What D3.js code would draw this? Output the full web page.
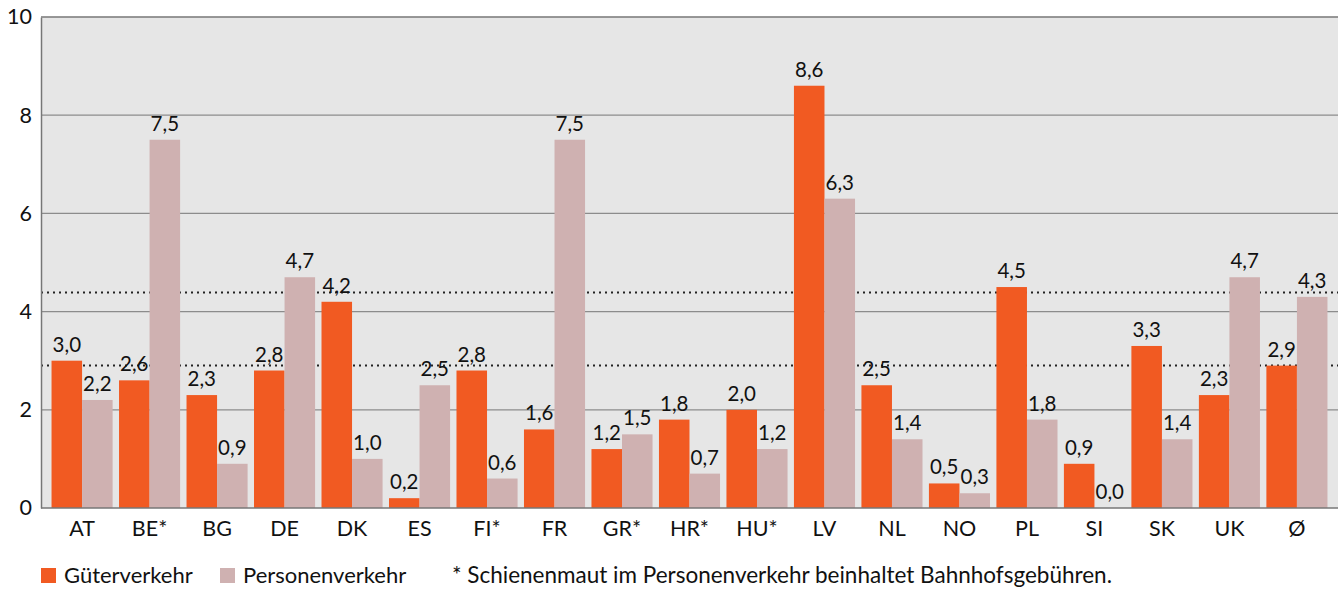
<!DOCTYPE html>
<html><head><meta charset="utf-8">
<script src="https://cdn.jsdelivr.net/npm/d3@7"></script>
<style>body{margin:0;background:#fff}svg{display:block;font-family:Lato,"Open Sans",sans-serif}</style>
</head><body><svg id="c" width="1338" height="590"></svg>
<script>
const categories = ["AT","BE*","BG","DE","DK","ES","FI*","FR","GR*","HR*","HU*","LV","NL","NO","PL","SI","SK","UK","Ø"];
const gueter = [3.0,2.6,2.3,2.8,4.2,0.2,2.8,1.6,1.2,1.8,2.0,8.6,2.5,0.5,4.5,0.9,3.3,2.3,2.9];
const personen = [2.2,7.5,0.9,4.7,1.0,2.5,0.6,7.5,1.5,0.7,1.2,6.3,1.4,0.3,1.8,0.0,1.4,4.7,4.3];
const seriesNames = ["Güterverkehr","Personenverkehr"];
const yTicks = [0,2,4,6,8,10];
const avgLines = [2.9, 4.39];
const footnote = "* Schienenmaut im Personenverkehr beinhaltet Bahnhofsgebühren.";

const colors = ["#F15A22","#CFB1B1"];
const svg = d3.select("#c");
const plotL = 41, plotR = 1338, plotT = 17, plotB = 508;
const y = d3.scaleLinear().domain([0,10]).range([plotB, plotT]);
const x = d3.scaleBand().domain(categories).range([48.3, 1330.7]).paddingInner(0.095).paddingOuter(0.048);
const xs = d3.scaleBand().domain([0,1]).range([0, x.bandwidth()]);

svg.append("rect").attr("x",plotL).attr("y",plotT).attr("width",plotR-plotL).attr("height",plotB-plotT).attr("fill","#E6E6E6");
svg.append("g").selectAll("line").data(yTicks.filter(d=>d>0)).join("line")
  .attr("x1",plotL).attr("x2",plotR).attr("y1",d=>y(d)).attr("y2",d=>y(d))
  .attr("stroke", "#8C8C8C").attr("stroke-width",1.2);
svg.append("g").selectAll("line").data(avgLines).join("line")
  .attr("x1",plotL).attr("x2",plotR).attr("y1",d=>y(d)).attr("y2",d=>y(d))
  .attr("stroke","#222").attr("stroke-width",2).attr("stroke-dasharray","2,4");

const data = categories.map((c,i)=>({c, v:[gueter[i], personen[i]]}));
const g = svg.append("g").selectAll("g").data(data).join("g").attr("transform",d=>`translate(${x(d.c)},0)`);
g.selectAll("rect").data(d=>d.v.map((v,k)=>({v,k}))).join("rect")
  .attr("x",d=>xs(d.k)).attr("width",xs.bandwidth())
  .attr("y",d=>y(d.v)).attr("height",d=>y(0)-y(d.v)).attr("fill",d=>colors[d.k]);
g.selectAll("text").data(d=>d.v.map((v,k)=>({v,k}))).join("text")
  .attr("x",d=>xs(d.k)+xs.bandwidth()/2).attr("y",d=>y(d.v)-9)
  .attr("text-anchor","middle").attr("font-size",20.5).attr("fill","#111")
  .text(d=>d.v.toFixed(1).replace(".",","));

const yAxis = svg.append("g").attr("transform",`translate(${plotL},0)`)
  .call(d3.axisLeft(y).tickValues(yTicks).tickSize(0).tickPadding(9));
yAxis.select(".domain").attr("stroke","#777").attr("stroke-width",1.5);
yAxis.selectAll("text").attr("font-size",21.5).attr("fill","#111").attr("font-family","Lato,sans-serif");
svg.append("line").attr("x1",plotL).attr("x2",plotR).attr("y1",plotT).attr("y2",plotT).attr("stroke","#888").attr("stroke-width",1.5);
const xAxis = svg.append("g").attr("transform",`translate(0,${plotB})`)
  .call(d3.axisBottom(x).tickSize(0).tickPadding(13));
xAxis.select(".domain").remove();
svg.append("line").attr("x1",plotL).attr("x2",plotR).attr("y1",plotB).attr("y2",plotB).attr("stroke","#777").attr("stroke-width",1.5);
xAxis.selectAll("text").attr("font-size",21.5).attr("fill","#111").attr("font-family","Lato,sans-serif");

const leg = svg.append("g");
const legX = [41, 220];
seriesNames.forEach((n,i)=>{
  leg.append("rect").attr("x",legX[i]).attr("y",568).attr("width",15).attr("height",15).attr("fill",colors[i]);
  leg.append("text").attr("x",legX[i]+23).attr("y",583).attr("font-size",22).attr("fill","#111").text(n);
});
leg.append("text").attr("x",452).attr("y",583).attr("font-size",22.5).attr("fill","#111").text(footnote);
</script></body></html>
